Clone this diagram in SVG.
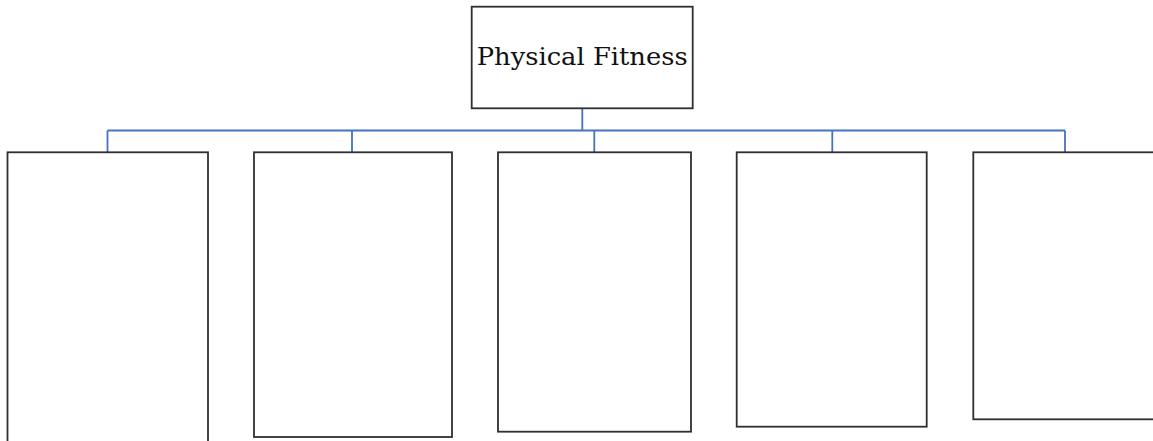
<svg xmlns="http://www.w3.org/2000/svg" width="1153" height="441" viewBox="0 0 1153 441">
<style>
.box{fill:#fff;stroke:#2f2f2f;stroke-width:1.8}
.conn{fill:none;stroke:#4472c4;stroke-width:1.8}
.lbl{font-family:"DejaVu Serif","Liberation Serif",serif;font-size:25px;fill:#111}
</style>
<rect width="1153" height="441" fill="#fff"/>
<g id="connectors">
<path class="conn" d="M582.3 108.3 V130.5"/>
<path class="conn" d="M107.5 130.5 H1065"/>
<path class="conn" d="M107.5 130.5 V152"/>
<path class="conn" d="M352 130.5 V152"/>
<path class="conn" d="M594.3 130.5 V152"/>
<path class="conn" d="M832.3 130.5 V152"/>
<path class="conn" d="M1065 130.5 V152"/>
</g>
<g id="root">
<rect class="box" x="471.7" y="6.7" width="221" height="101.6"/>
<text class="lbl" x="582.2" y="65" text-anchor="middle" textLength="211" lengthAdjust="spacingAndGlyphs">Physical Fitness</text>
</g>
<g id="child1"><rect class="box" x="7.5" y="152.3" width="200.5" height="300"/></g>
<g id="child2"><rect class="box" x="254" y="152.3" width="198" height="284.7"/></g>
<g id="child3"><rect class="box" x="498" y="152.3" width="193" height="279.4"/></g>
<g id="child4"><rect class="box" x="736.7" y="152.3" width="190" height="274.4"/></g>
<g id="child5"><rect class="box" x="973.3" y="152.3" width="200" height="267"/></g>
</svg>
